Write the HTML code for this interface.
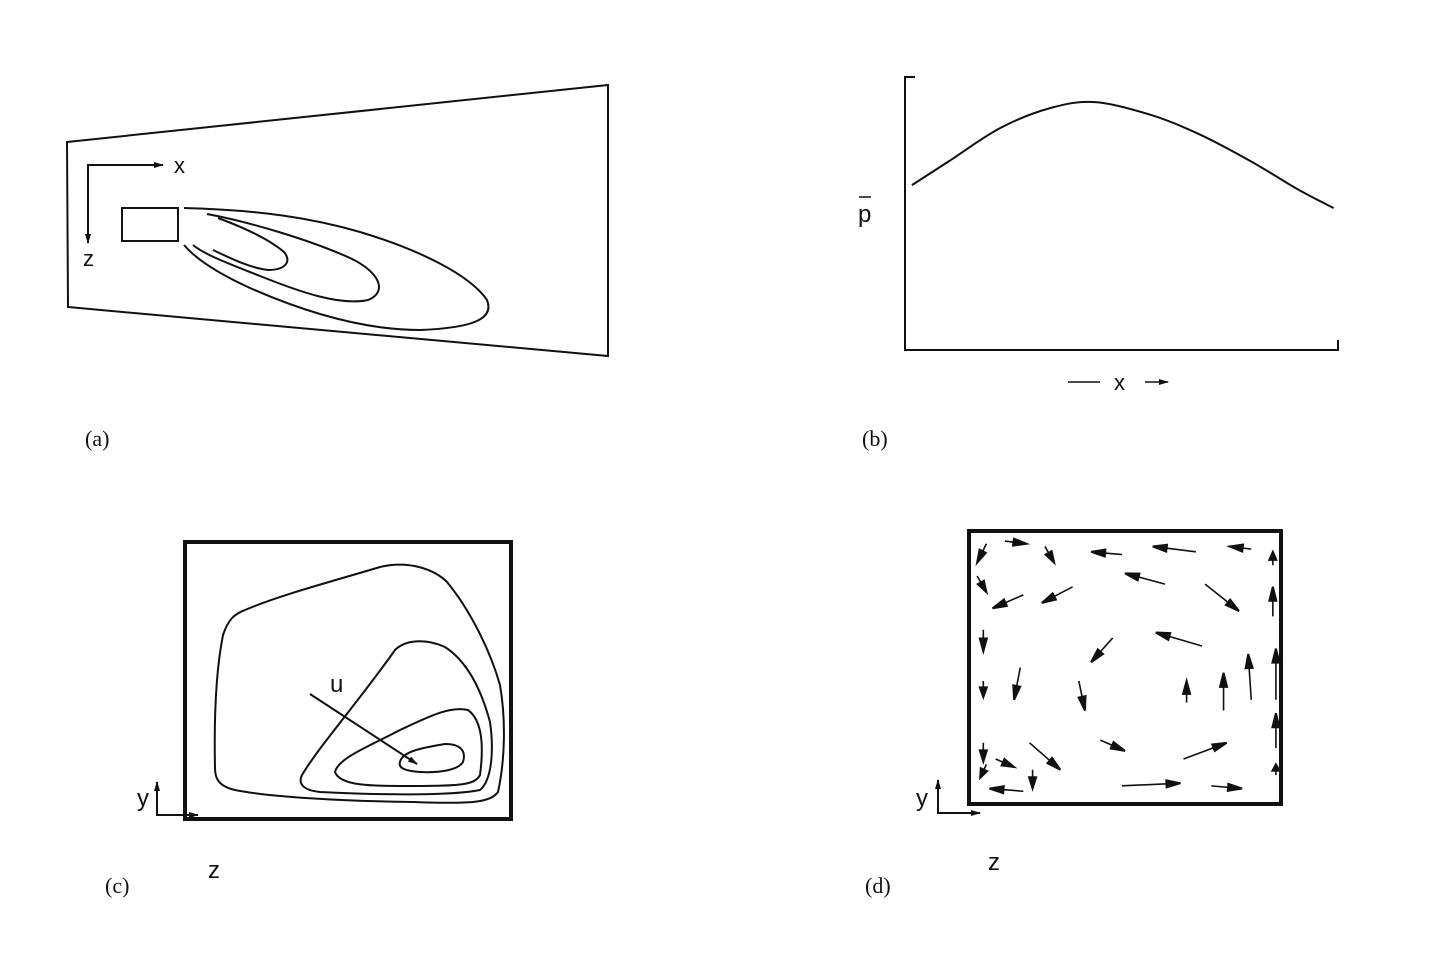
<!DOCTYPE html>
<html><head><meta charset="utf-8"><style>
html,body{margin:0;padding:0;background:#fff}
svg{display:block}
text{font-family:"Liberation Sans",sans-serif;fill:#111}
.cap{font-family:"Liberation Serif",serif;font-size:22px}
</style></head><body>
<svg id="fig" width="1433" height="953" viewBox="0 0 1433 953">
<defs>
<marker id="ah" viewBox="0 0 10 6" refX="9" refY="3" markerWidth="10" markerHeight="6" markerUnits="userSpaceOnUse" orient="auto"><path d="M0,0 L10,3 L0,6 Z" fill="#111"/></marker>
</defs>
<g fill="none" stroke="#111" stroke-width="2">
<path d="M67,142 L608,85 L608,356 L68,307 Z"/>
<path d="M88,167 L88,165 L163,165" marker-end="url(#ah)"/>
<path d="M88,166 L88,243" marker-end="url(#ah)"/>
<rect x="122" y="208" width="56" height="33"/>
<path d="M184,208 C260,210 312,218 360,232 C420,250 470,275 487,300 C495,320 470,328 420,330 C360,330 300,310 250,288 C215,272 195,258 184,245"/>
<path d="M207,214 C250,222 310,240 350,258 C380,272 388,292 368,300 C340,306 300,292 260,276 C230,264 205,255 193,245"/>
<path d="M218,218 C245,228 270,240 284,252 C292,262 285,270 268,270 C250,268 230,258 213,250"/>
</g>
<text x="174" y="173" font-size="22">x</text>
<text x="83" y="266" font-size="22">z</text>
<text class="cap" x="85" y="446">(a)</text>

<g id="panelB" fill="none" stroke="#111" stroke-width="2">
<path d="M915,77 L905,77 L905,350 L1338,350 L1338,340"/>
</g>
<text x="858" y="222" font-size="24">p</text>
<line x1="859" y1="197" x2="871" y2="197" stroke="#111" stroke-width="1.5"/>
<line x1="1068" y1="382" x2="1100" y2="382" stroke="#111" stroke-width="1.5"/>
<text x="1114" y="390" font-size="22">x</text>
<line x1="1145" y1="382" x2="1168" y2="382" stroke="#111" stroke-width="1.5" marker-end="url(#ah)"/>
<text class="cap" x="862" y="446">(b)</text>

<g fill="none" stroke="#111" stroke-width="2">
<rect x="185" y="542" width="326" height="277" stroke-width="4"/>
<path d="M215,768 C214,720 216,670 223,635 C228,620 234,614 245,610 C280,595 330,582 380,567 C410,560 435,570 447,582 C470,610 490,650 500,685 C506,720 505,760 498,792 C490,803 470,804 413,802 C340,801 270,797 235,790 C218,786 215,778 215,768 Z"/>
<path d="M302,775 C320,745 360,700 395,650 C405,640 425,638 445,647 C465,660 480,685 490,722 C494,750 492,780 480,790 C450,796 380,795 320,792 C302,790 298,783 302,775 Z"/>
<path d="M335,772 C338,758 370,746 400,730 C430,716 450,706 468,710 C482,720 484,745 480,775 C475,785 460,786 413,786 C370,786 340,786 335,772 Z"/>
<path d="M400,762 C402,752 420,748 445,744 C462,744 466,752 463,762 C458,770 440,773 420,772 C405,771 398,768 400,762 Z"/>
<path d="M310,694 L417,764" marker-end="url(#ah)"/>
<path d="M157,815 L198,815" marker-end="url(#ah)"/>
<path d="M157,816 L157,782" marker-end="url(#ah)"/>
</g>
<text x="330" y="692" font-size="24">u</text>
<text x="137" y="806" font-size="24">y</text>
<text x="208" y="878" font-size="24">z</text>
<text class="cap" x="105" y="893">(c)</text>

<g id="panelD" fill="none" stroke="#111" stroke-width="2">
<rect x="969" y="531" width="312" height="273" stroke-width="4"/>
<path d="M938,813 L980,813" marker-end="url(#ah)"/>
<path d="M938,814 L938,780" marker-end="url(#ah)"/>
</g>
<text x="916" y="806" font-size="24">y</text>
<text x="988" y="870" font-size="24">z</text>
<text class="cap" x="865" y="893">(d)</text>
</svg>
<script>
// Panel (b) mean pressure profile
const bX = [0.016, 0.1, 0.22, 0.335, 0.44, 0.57, 0.68, 0.8, 0.91, 0.99];
const bP = [0.604, 0.69, 0.813, 0.886, 0.908, 0.86, 0.79, 0.69, 0.586, 0.52];
// Panel (d) secondary-flow vectors: tail z, tail y, head z, head y (domain units 0..1 across duct)
const vz0 = [0.05,0.11,0.24,0.49,0.73,0.91,0.98,0.02,0.17,0.33,0.63,0.76,0.98,0.04,0.46,0.75,0.91,0.99,0.04,0.16,0.35,0.70,0.82,0.99,0.04,0.08,0.19,0.42,0.69,0.05,0.20,0.17,0.49,0.78,0.99];
const vy0 = [0.04,0.03,0.05,0.08,0.07,0.06,0.12,0.16,0.23,0.20,0.19,0.19,0.31,0.36,0.39,0.42,0.62,0.62,0.55,0.50,0.55,0.63,0.66,0.80,0.78,0.84,0.78,0.77,0.84,0.86,0.88,0.96,0.94,0.94,0.90];
const vz1 = [0.02,0.18,0.27,0.39,0.59,0.84,0.98,0.05,0.07,0.23,0.50,0.87,0.98,0.04,0.39,0.60,0.90,0.99,0.04,0.14,0.37,0.70,0.82,0.99,0.04,0.14,0.29,0.50,0.83,0.03,0.20,0.06,0.68,0.88,0.99];
const vy1 = [0.11,0.04,0.11,0.07,0.05,0.05,0.07,0.22,0.28,0.26,0.15,0.29,0.20,0.44,0.48,0.37,0.45,0.43,0.61,0.62,0.66,0.55,0.52,0.67,0.85,0.87,0.88,0.81,0.78,0.91,0.95,0.95,0.93,0.95,0.86];
const NS='http://www.w3.org/2000/svg';
const bx = v => 905 + v*433, by = v => 350 - v*273;
const gB = document.getElementById('panelB');
const pts = bX.map((x,i)=>[bx(x),by(bP[i])]);
let d = 'M'+pts[0][0]+','+pts[0][1];
for (let i=0;i<pts.length-1;i++){
  const p0=pts[Math.max(0,i-1)], p1=pts[i], p2=pts[i+1], p3=pts[Math.min(pts.length-1,i+2)];
  const c1x=p1[0]+(p2[0]-p0[0])/6, c1y=p1[1]+(p2[1]-p0[1])/6;
  const c2x=p2[0]-(p3[0]-p1[0])/6, c2y=p2[1]-(p3[1]-p1[1])/6;
  d += ` C${c1x},${c1y} ${c2x},${c2y} ${p2[0]},${p2[1]}`;
}
const pl = document.createElementNS(NS,'path');
pl.setAttribute('d', d);


gB.appendChild(pl);
const dz = v => 971 + v*308, dy = v => 533 + v*269;
const gD = document.getElementById('panelD');
for (let i=0;i<vz0.length;i++){
  const x0=dz(vz0[i]),y0=dy(vy0[i]),x1=dz(vz1[i]),y1=dy(vy1[i]);
  const L=Math.hypot(x1-x0,y1-y0)||1, ux=(x1-x0)/L, uy=(y1-y0)/L, hl=Math.min(14,L*0.6), hw=3.5;
  const ln=document.createElementNS(NS,'line');
  ln.setAttribute('x1',x0);ln.setAttribute('y1',y0);ln.setAttribute('x2',x1);ln.setAttribute('y2',y1);
  ln.setAttribute('stroke-width','1.6');
  
  
  gD.appendChild(ln);
  const bxp=x1-ux*hl, byp=y1-uy*hl;
  const hd=document.createElementNS(NS,'polygon');
  hd.setAttribute('points',`${x1},${y1} ${bxp-uy*hw},${byp+ux*hw} ${bxp+uy*hw},${byp-ux*hw}`);
  hd.setAttribute('fill','#111');
  
  
  gD.appendChild(hd);
}
</script>
</body></html>
